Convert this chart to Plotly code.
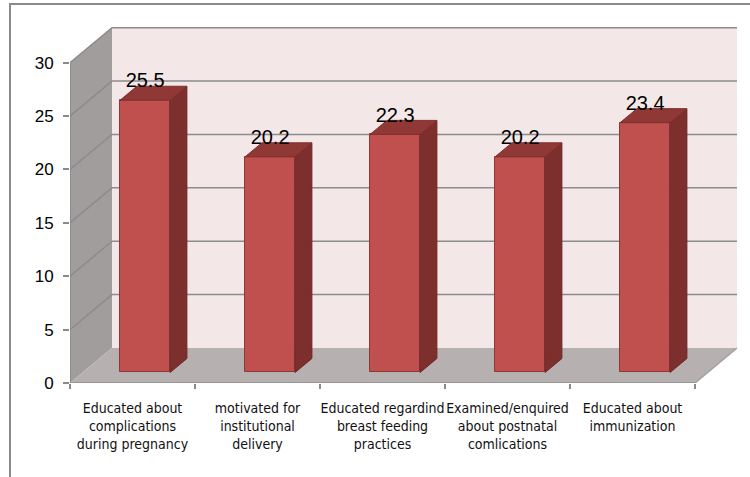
import plotly.graph_objects as go

# ---- data ----
categories = [
    "Educated about<br>complications<br>during pregnancy",
    "motivated for<br>institutional<br>delivery",
    "Educated regardind<br>breast feeding<br>practices",
    "Examined/enquired<br>about postnatal<br>comlications",
    "Educated about<br>immunization",
]
values = [25.5, 20.2, 22.3, 20.2, 23.4]
y_ticks = [0, 5, 10, 15, 20, 25, 30]

# ---- 3D projection geometry (in data units) ----
DX = 0.336      # depth offset along x (category units)
DY = 3.28       # depth offset along y (value units)
F0, F1 = 0.3, 0.7   # bar front/back depth fractions
BW = 0.4        # bar width
N = len(categories)
YMAX = 30

FRONT = "#C0504D"
SIDE = "#7D2F2E"
TOP = "#8F3836"
EDGE = "#8E3735"
GRID = "#8C8C8C"

shapes = []
def poly(pts, fill, line_color=None, width=0):
    path = "M " + " L ".join(f"{x},{y}" for x, y in pts) + " Z"
    shapes.append(dict(type="path", path=path, xref="x", yref="y", layer="below",
                       fillcolor=fill, line=dict(color=line_color or fill, width=width)))
def line(pts, color=GRID, width=1.5):
    path = "M " + " L ".join(f"{x},{y}" for x, y in pts)
    shapes.append(dict(type="path", path=path, xref="x", yref="y", layer="below",
                       line=dict(color=color, width=width)))

# walls
poly([(DX, DY), (N + DX, DY), (N + DX, YMAX + DY), (DX, YMAX + DY)], "#F3E7E8")
poly([(0, 0), (0, YMAX), (DX, YMAX + DY), (DX, DY)], "#A19D9D")
poly([(0, 0), (N, 0), (N + DX, DY), (DX, DY)], "#B6B0B0")
# gridlines
for v in y_ticks[1:]:
    line([(0, v), (DX, v + DY), (N + DX, v + DY)])
# axes lines
line([(0, 0), (0, YMAX)], "#8A8A8A", 1.5)
line([(0, 0), (N, 0)], "#8A8A8A", 1.5)
line([(N, 0), (N + DX, DY)], "#A0A0A0", 1.5)

fig = go.Figure()

# front faces
xc = [i + 0.5 + F0 * DX for i in range(N)]
fig.add_trace(go.Bar(x=xc, y=values, base=[F0 * DY] * N, width=BW,
                     marker=dict(color=FRONT, line=dict(color=EDGE, width=1)),
                     hoverinfo="skip", showlegend=False))

# side and top faces
sx, sy, tx, ty = [], [], [], []
for i, v in enumerate(values):
    l0 = i + 0.5 - BW / 2
    r0 = i + 0.5 + BW / 2
    a = (r0 + F0 * DX, F0 * DY)
    b = (r0 + F1 * DX, F1 * DY)
    c = (r0 + F1 * DX, v + F1 * DY)
    d = (r0 + F0 * DX, v + F0 * DY)
    for p in (a, b, c, d, a):
        sx.append(p[0]); sy.append(p[1])
    sx.append(None); sy.append(None)
    e = (l0 + F0 * DX, v + F0 * DY)
    f = (l0 + F1 * DX, v + F1 * DY)
    for p in (e, d, c, f, e):
        tx.append(p[0]); ty.append(p[1])
    tx.append(None); ty.append(None)
fig.add_trace(go.Scatter(x=sx, y=sy, fill="toself", fillcolor=SIDE, mode="lines",
                         line=dict(color="#6E2725", width=1), hoverinfo="skip", showlegend=False))
fig.add_trace(go.Scatter(x=tx, y=ty, fill="toself", fillcolor=TOP, mode="lines",
                         line=dict(color="#7E2F2D", width=1), hoverinfo="skip", showlegend=False))

# value labels
fig.add_trace(go.Scatter(x=xc, y=[v + 2.65 for v in values], mode="text",
                         text=[f"{v}" for v in values], textposition="middle center",
                         textfont=dict(family="Liberation Sans, Arial, sans-serif", size=20, color="#000000"),
                         hoverinfo="skip", showlegend=False))

# outer border
shapes.append(dict(type="rect", xref="paper", yref="paper",
                   x0=(10 - 70) / 675, x1=(770 - 70) / 675,
                   y0=(383 - 500) / 363, y1=(383 - 4) / 363,
                   line=dict(color="#8A8A8A", width=2), fillcolor="rgba(0,0,0,0)", layer="below"))

fig.update_layout(
    width=750, height=477,
    margin=dict(l=70, r=5, t=20, b=94, autoexpand=False),
    paper_bgcolor="white", plot_bgcolor="rgba(0,0,0,0)",
    shapes=shapes,
    bargap=0,
    xaxis=dict(range=[0, 5.4], tickmode="array", tickvals=[i + 0.5 for i in range(N)],
               ticktext=categories, ticks="", showgrid=False, zeroline=False, showline=False,
               tickangle=0, automargin=False,
               tickfont=dict(family="DejaVu Sans Condensed", size=14, color="#111111"),
               ticklabelstandoff=15,
               minor=dict(tickmode="array", tickvals=list(range(N + 1)), ticks="outside",
                          ticklen=5, tickcolor="#8A8A8A", tickwidth=1.5, showgrid=False),
               fixedrange=True),
    yaxis=dict(range=[0, 34], tickmode="array", tickvals=y_ticks, ticks="outside", ticklen=6,
               tickcolor="#8A8A8A", tickwidth=1.5, showgrid=False, zeroline=False, showline=False,
               automargin=False,
               tickfont=dict(family="Liberation Sans, Arial, sans-serif", size=17, color="#000000"),
               ticklabelstandoff=6, fixedrange=True),
)

fig.write_html("out.html")
